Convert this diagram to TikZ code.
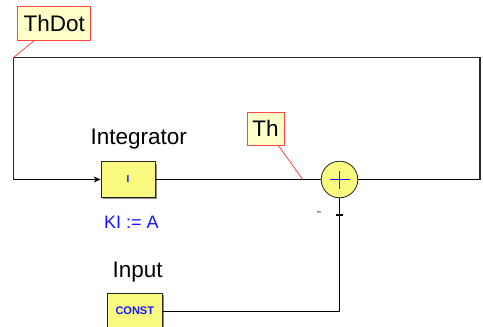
\documentclass[tikz,border=0pt]{standalone}
\usepackage{fontspec}
\setmainfont{Liberation Sans}
\usetikzlibrary{arrows.meta}
\definecolor{blkfill}{RGB}{250,250,128}
\definecolor{lblfill}{RGB}{255,255,200}
\definecolor{lblred}{RGB}{255,70,70}
\definecolor{wire}{RGB}{40,40,40}
\definecolor{txtblue}{RGB}{20,20,255}
\begin{document}
\begin{tikzpicture}[x=1pt,y=-1pt,
  blk/.style={draw=black!85, fill=blkfill, line width=0.8pt, inner sep=0pt,
              minimum width=54pt, minimum height=35.5pt},
  sumnode/.style={circle, draw=black!85, fill=blkfill, line width=0.8pt,
              inner sep=0pt, minimum size=36.6pt},
  lbl/.style={draw=lblred, fill=lblfill, line width=0.8pt, inner sep=0pt,
              font=\fontsize{22.5}{27}\selectfont},
  redline/.style={draw=lblred, line width=0.8pt},
  thinwire/.style={draw=black, line width=0.9pt},
  thickwire/.style={draw=wire, line width=1.6pt},
  plusbar/.style={fill=txtblue},
  title/.style={anchor=base west, font=\fontsize{22.5}{27}\selectfont}
]
\useasboundingbox (0,0) rectangle (483,327);
\clip (0,0) rectangle (483,327);

% blocks
\fill[black!45] (102.5,163.5) rectangle (156.5,199);
\node[blk] (integ) at (128,179.5) {\fontsize{10}{11}\selectfont\bfseries\color{txtblue}I};
\node[sumnode] (sum) at (339.5,179.5) {};
\path[plusbar] (329.5,178.6) rectangle (349.5,180.4);
\path[plusbar] (338.6,170.5) rectangle (340.4,188.5);
\fill[black!45] (109,294.5) rectangle (164,331);
\node[blk, minimum width=55pt, minimum height=36pt] (const) at (134.8,311)
  {\fontsize{11}{13}\selectfont\bfseries\color{txtblue}CONST};

% titles
\node[title] (tinteg) at (87,144) {Integrator};
\node[title] (tinput) at (109,277.7) {Input};
\begin{scope}
\clip (95,200) rectangle (158.5,240);
\node[anchor=base west, font=\fontsize{18}{21}\selectfont, text=txtblue] (ki) at (100.5,228) {KI := A};
\end{scope}

% coordinates of the loop
\coordinate (rc) at (480,179.5);
\coordinate (tr) at (480,57.5);
\coordinate (tl) at (13.5,57.5);
\coordinate (bl) at (13.5,179.5);
\coordinate (cc) at (339.5,311);
\coordinate (thpt) at (302.7,179.5);

% wires
\draw[thinwire] (integ.east) -- (sum.west);
\draw[thinwire] (sum.east) -- (rc);
\draw[thickwire] (rc) -- (tr) -- (tl) -- (bl);
\draw[thinwire, -{Stealth[length=7pt,width=6pt]}] (bl) -- (integ.west);
\draw[thinwire] (const.east) -- (cc) -- (sum.south);

% minus sign marks
\coordinate (tk1) at (336,215);
\coordinate (tk2) at (343,215);
\draw[black, line width=1.3pt] (tk1) -- (tk2);
\node[text=black!55, font=\fontsize{16}{18}\selectfont, inner sep=0pt] (minus) at (319,214) {-};

% labels
\node[lbl, minimum width=73pt, minimum height=34pt] (thdot) at (54.2,23) {ThDot};
\node[lbl, minimum width=37pt, minimum height=33pt] (th) at (265.5,128.5) {Th};
\coordinate (thdotfoot) at (35,40);
\coordinate (thfoot) at (278,145);
\draw[redline] (thdotfoot) -- (tl);
\draw[redline] (thfoot) -- (thpt);
\end{tikzpicture}
\end{document}
